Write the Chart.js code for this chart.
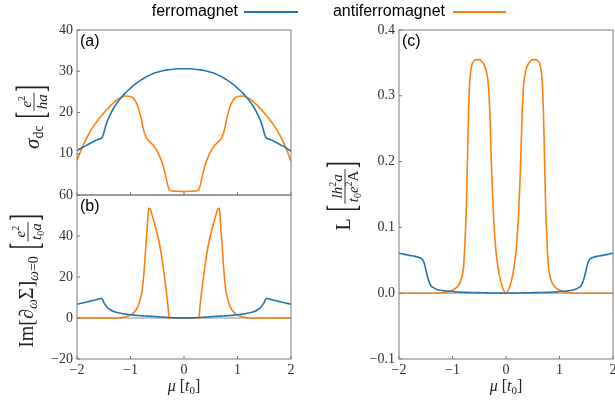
<!DOCTYPE html>
<html>
<head>
<meta charset="utf-8">
<script src="https://cdn.jsdelivr.net/npm/chart.js@4.4.0/dist/chart.umd.min.js"></script>
<style>
  html, body { margin: 0; padding: 0; background: #fff; overflow: hidden; }
  #wrap { position: relative; width: 615px; height: 403px; overflow: hidden; }
  #wrap canvas { position: absolute; left: 0; top: 0; }
</style>
</head>
<body>
<div id="wrap">
  <canvas id="panelA" width="615" height="403"></canvas>
  <canvas id="panelB" width="615" height="403"></canvas>
  <canvas id="panelC" width="630" height="403"></canvas>
</div>
<script>
// chemical potential grids, one per panel
const muA = [-2, -1.9, -1.8, -1.7, -1.6, -1.53, -1.45, -1.4, -1.3, -1.2, -1.1, -1, -0.95, -0.9, -0.85, -0.8, -0.75, -0.7, -0.65, -0.6, -0.55, -0.5, -0.45, -0.4, -0.35, -0.3, -0.27, -0.2, -0.1, 0,
  0.1, 0.2, 0.27, 0.3, 0.35, 0.4, 0.45, 0.5, 0.55, 0.6, 0.65, 0.7, 0.75, 0.8, 0.85, 0.9, 0.95, 1, 1.1, 1.2, 1.3, 1.4, 1.45, 1.53, 1.6, 1.7, 1.8, 1.9, 2];
const muB = [-2, -1.9, -1.8, -1.7, -1.6, -1.54, -1.5, -1.45, -1.4, -1.3, -1.2, -1.1, -1, -0.95, -0.9, -0.85, -0.8, -0.77, -0.74, -0.71, -0.68, -0.66, -0.63, -0.6, -0.55, -0.5, -0.45, -0.4, -0.35, -0.3, -0.28, -0.2, -0.1, 0,
  0.1, 0.2, 0.28, 0.3, 0.35, 0.4, 0.45, 0.5, 0.55, 0.6, 0.63, 0.66, 0.68, 0.71, 0.74, 0.77, 0.8, 0.85, 0.9, 0.95, 1, 1.1, 1.2, 1.3, 1.4, 1.45, 1.5, 1.54, 1.6, 1.7, 1.8, 1.9, 2];
const muC = [-2, -1.9, -1.8, -1.7, -1.6, -1.55, -1.52, -1.5, -1.47, -1.44, -1.4, -1.35, -1.3, -1.2, -1.1, -1, -0.95, -0.9, -0.85, -0.82, -0.79, -0.76, -0.74, -0.72, -0.7, -0.68, -0.66, -0.63, -0.6, -0.55, -0.5, -0.45, -0.4, -0.37, -0.34, -0.32, -0.3, -0.28, -0.26, -0.24, -0.2, -0.16, -0.12, -0.08, -0.04, 0,
  0.04, 0.08, 0.12, 0.16, 0.2, 0.24, 0.26, 0.28, 0.3, 0.32, 0.34, 0.37, 0.4, 0.45, 0.5, 0.55, 0.6, 0.63, 0.66, 0.68, 0.7, 0.72, 0.74, 0.76, 0.79, 0.82, 0.85, 0.9, 0.95, 1, 1.1, 1.2, 1.3, 1.35, 1.4, 1.44, 1.47, 1.5, 1.52, 1.55, 1.6, 1.7, 1.8, 1.9, 2];

// (a) sigma_dc
const sigmaFerro = [10.8, 11.5, 12.2, 12.9, 13.5, 14.0, 17.3, 18.9, 21.4, 23.2, 24.7, 25.9, 26.5, 27.0, 27.5, 27.9, 28.3, 28.7, 29.0, 29.3, 29.55, 29.75, 29.95, 30.1, 30.25, 30.35, 30.4, 30.5, 30.6, 30.6,
  30.6, 30.5, 30.4, 30.35, 30.25, 30.1, 29.95, 29.75, 29.55, 29.3, 29.0, 28.7, 28.3, 27.9, 27.5, 27.0, 26.5, 25.9, 24.7, 23.2, 21.4, 18.9, 17.3, 14.0, 13.5, 12.9, 12.2, 11.5, 10.6];
const sigmaAnti = [8.4, 11.6, 14.3, 16.5, 18.3, 19.4, 20.6, 21.3, 22.6, 23.5, 24.0, 23.9, 23.5, 22.6, 21.0, 18.5, 15.5, 13.8, 13.0, 12.4, 11.6, 10.6, 9.2, 7.5, 5.0, 2.2, 1.2, 0.95, 0.9, 0.85,
  0.9, 0.95, 1.2, 2.2, 5.0, 7.5, 9.2, 10.6, 11.6, 12.4, 13.0, 13.8, 15.5, 18.5, 21.0, 22.6, 23.5, 23.9, 24.0, 23.5, 22.6, 21.3, 20.6, 19.4, 18.3, 16.5, 14.3, 11.6, 8.2];

// (b) Im[d_omega Sigma] at omega = 0
const imFerro = [6.7, 7.3, 7.9, 8.5, 9.2, 9.6, 7.6, 5.6, 4.4, 3.0, 2.4, 1.9, 1.6, 1.45, 1.3, 1.2, 1.1, 1.05, 1.0, 0.95, 0.9, 0.87, 0.83, 0.78, 0.7, 0.6, 0.52, 0.44, 0.36, 0.28, 0.25, 0.15, 0.06, 0,
  0.06, 0.15, 0.25, 0.28, 0.36, 0.44, 0.52, 0.6, 0.7, 0.78, 0.83, 0.87, 0.9, 0.95, 1.0, 1.05, 1.1, 1.2, 1.3, 1.45, 1.6, 1.9, 2.4, 3.0, 4.4, 5.6, 7.6, 9.6, 9.2, 8.5, 7.9, 7.3, 6.7];
const imAnti = [0, 0, 0, 0, 0, 0, 0, 0, 0, 0, 0.15, 0.5, 1.4, 2.4, 3.8, 6.5, 11, 16, 25, 36, 47, 53.5, 53, 50.5, 46, 41, 35, 27, 17, 6, 0, 0, 0, 0,
  0, 0, 0, 6, 17, 27, 35, 41, 46, 50.5, 53, 53.5, 47, 36, 25, 16, 11, 6.5, 3.8, 2.4, 1.4, 0.5, 0.15, 0, 0, 0, 0, 0, 0, 0, 0, 0, 0];

// (c) L
const lFerro = [0.061, 0.059, 0.0575, 0.056, 0.0535, 0.05, 0.043, 0.036, 0.026, 0.018, 0.011, 0.008, 0.006, 0.004, 0.003, 0.0025, 0.002, 0.0018, 0.0016, 0.0015, 0.0014, 0.0013, 0.0013, 0.0012, 0.0012, 0.0011, 0.0011, 0.001, 0.001, 0.0009, 0.0008, 0.0007, 0.0006, 0.0005, 0.0005, 0.0004, 0.0004, 0.0003, 0.0003, 0.0003, 0.0002, 0.0002, 0.0001, 0.0001, 0, 0,
  0, 0.0001, 0.0001, 0.0002, 0.0002, 0.0003, 0.0003, 0.0003, 0.0004, 0.0004, 0.0005, 0.0005, 0.0006, 0.0007, 0.0008, 0.0009, 0.001, 0.001, 0.0011, 0.0011, 0.0012, 0.0012, 0.0013, 0.0013, 0.0014, 0.0015, 0.0016, 0.0018, 0.002, 0.0025, 0.003, 0.004, 0.006, 0.008, 0.011, 0.018, 0.026, 0.036, 0.043, 0.05, 0.0535, 0.056, 0.0575, 0.059, 0.061];
const lAnti = [0, 0, 0, 0, 0, 0, 0, 0, 0, 0, 0, 0, 0, 0.0008, 0.002, 0.0045, 0.007, 0.011, 0.018, 0.027, 0.043, 0.09, 0.135, 0.205, 0.275, 0.318, 0.336, 0.349, 0.353, 0.355, 0.355, 0.352, 0.346, 0.338, 0.325, 0.305, 0.27, 0.215, 0.168, 0.128, 0.075, 0.045, 0.026, 0.012, 0.004, 0,
  0.004, 0.012, 0.026, 0.045, 0.075, 0.128, 0.168, 0.215, 0.27, 0.305, 0.325, 0.338, 0.346, 0.352, 0.355, 0.355, 0.353, 0.349, 0.336, 0.318, 0.275, 0.205, 0.135, 0.09, 0.043, 0.027, 0.018, 0.011, 0.007, 0.0045, 0.002, 0.0008, 0, 0, 0, 0, 0, 0, 0, 0, 0, 0, 0, 0, 0];

const seriesNames = ['ferromagnet', 'antiferromagnet'];
const BLUE = '#1f77b4';
const ORANGE = '#ff7f0e';
const FRAME = '#7a7a7a';
const TEXT = '#222';
const SERIF = '"Liberation Serif", "DejaVu Serif", serif';
const SANS = '"Liberation Sans", Arial, sans-serif';

const minus = s => String(s).replace('-', '\u2212');

// --- small rich text helper for the LaTeX-like axis labels ---
function fnt(style, size) {
  return (style === 'i' ? 'italic ' : '') + size + 'px ' + SERIF;
}
function runsWidth(ctx, runs) {
  let w = 0;
  for (const r of runs) { ctx.font = fnt(r[1], r[2]); w += ctx.measureText(r[0]).width; }
  return w;
}
function drawRuns(ctx, runs, x, y) {
  for (const r of runs) {
    ctx.font = fnt(r[1], r[2]);
    ctx.fillText(r[0], x, y + (r[3] || 0));
    x += ctx.measureText(r[0]).width;
  }
  return x;
}
function bracket(ctx, ch, x, axis, k) {
  ctx.save();
  ctx.translate(x, axis);
  ctx.scale(1, k);
  ctx.font = fnt('r', 20);
  ctx.fillText(ch, 0, 5);
  ctx.restore();
}
function itemWidth(ctx, it) {
  if (it.gap) return it.gap;
  if (it.runs) return runsWidth(ctx, it.runs);
  ctx.font = fnt('r', 20);
  const bw = ctx.measureText('[').width;
  const fw = Math.max(runsWidth(ctx, it.num), runsWidth(ctx, it.den)) + 3;
  return bw * 2 + fw + 2;
}
function drawItem(ctx, it, x) {
  if (it.gap) return x + it.gap;
  if (it.runs) return drawRuns(ctx, it.runs, x, 0);
  const axis = -5, k = 2.0;
  ctx.font = fnt('r', 20);
  const bw = ctx.measureText('[').width;
  const nw = runsWidth(ctx, it.num), dw = runsWidth(ctx, it.den);
  const fw = Math.max(nw, dw) + 3;
  bracket(ctx, '[', x, axis, k);
  const fx = x + bw + 1;
  ctx.fillRect(fx, axis - 0.45, fw, 0.9);
  drawRuns(ctx, it.num, fx + (fw - nw) / 2, axis - 3);
  drawRuns(ctx, it.den, fx + (fw - dw) / 2, axis + 13);
  bracket(ctx, ']', fx + fw + 1, axis, k);
  return fx + fw + 1 + bw;
}
function drawLabel(ctx, items, x, y, rotated) {
  ctx.save();
  ctx.fillStyle = TEXT;
  ctx.textAlign = 'left';
  ctx.textBaseline = 'alphabetic';
  ctx.translate(x, y);
  if (rotated) ctx.rotate(-Math.PI / 2);
  const w = items.reduce((s, it) => s + itemWidth(ctx, it), 0);
  let cx = -w / 2;
  for (const it of items) cx = drawItem(ctx, it, cx);
  ctx.restore();
}

const eSq = [['e', 'i', 15], ['2', 'r', 10, -6]];
const labelA = [{ runs: [['σ', 'i', 21], ['dc', 'r', 14, 4]] }, { gap: 7 },
  { num: eSq, den: [['h', 'i', 15], ['a', 'i', 15]] }];
const labelB = [{ runs: [['Im', 'r', 20], ['[', 'r', 20], ['∂', 'r', 20], ['ω', 'i', 14, 4], ['Σ', 'r', 20], [']', 'r', 20], ['ω', 'i', 14, 5], ['=', 'r', 14, 5], ['0', 'r', 14, 5]] },
  { gap: 7 }, { num: eSq, den: [['t', 'i', 15], ['0', 'r', 10, 3], ['a', 'i', 15]] }];
const labelC = [{ runs: [['L', 'r', 20]] }, { gap: 7 },
  { num: [['l', 'i', 15], ['h', 'i', 15], ['2', 'r', 10, -6], ['a', 'i', 15]],
    den: [['t', 'i', 15], ['0', 'r', 10, 3], ['e', 'i', 15], ['2', 'r', 10, -6], ['A', 'r', 15]] }];
const labelX = [{ runs: [['μ', 'i', 16], [' ', 'r', 16], ['[', 'r', 16], ['t', 'i', 16], ['0', 'r', 11, 3], [']', 'r', 16]] }];

// frame, inward ticks, zero line, labels
function makeFrame(cfg) {
  return {
    id: 'frame' + cfg.letter,
    beforeDatasetsDraw(chart) {
      if (!cfg.zeroLine) return;
      const { ctx, chartArea: a, scales: { y } } = chart;
      const py = y.getPixelForValue(0);
      ctx.save();
      ctx.strokeStyle = '#b5b5b5';
      ctx.lineWidth = 1.5;
      ctx.beginPath(); ctx.moveTo(a.left, py); ctx.lineTo(a.right, py); ctx.stroke();
      ctx.restore();
    },
    afterDatasetsDraw(chart) {
      const { ctx, chartArea: a, scales: { x, y } } = chart;
      ctx.save();
      ctx.strokeStyle = FRAME;
      ctx.lineWidth = 1;
      ctx.strokeRect(a.left, a.top, a.right - a.left, a.bottom - a.top);
      ctx.beginPath();
      y.ticks.forEach(t => { const p = y.getPixelForValue(t.value); ctx.moveTo(a.left, p); ctx.lineTo(a.left + 3, p); });
      x.ticks.forEach(t => { const p = x.getPixelForValue(t.value); ctx.moveTo(p, a.bottom); ctx.lineTo(p, a.bottom - 3); });
      ctx.stroke();
      ctx.restore();
    },
    afterDraw(chart) {
      const { ctx, chartArea: a } = chart;
      ctx.save();
      ctx.fillStyle = '#000';
      ctx.font = '16px ' + SANS;
      ctx.textAlign = 'left';
      ctx.textBaseline = 'alphabetic';
      ctx.fillText('(' + cfg.letter + ')', a.left + 3, a.top + 16);
      ctx.restore();
      drawLabel(ctx, cfg.yLabel, cfg.yLabelX, cfg.yLabelY, true);
      if (cfg.xTicks) drawLabel(ctx, labelX, (a.left + a.right) / 2, 391, false);
      if (cfg.legend) {
        ctx.save();
        ctx.font = '16px ' + SANS;
        ctx.textAlign = 'right';
        ctx.textBaseline = 'middle';
        ctx.fillStyle = '#000';
        ctx.lineWidth = 2;
        [[238, 244, 298, BLUE], [445, 453, 506, ORANGE]].forEach((l, i) => {
          ctx.fillText(seriesNames[i], l[0], 12);
          ctx.strokeStyle = l[3];
          ctx.beginPath(); ctx.moveTo(l[1], 12); ctx.lineTo(l[2], 12); ctx.stroke();
        });
        ctx.restore();
      }
    }
  };
}

function makeChart(id, cfg) {
  const tickFont = { family: SERIF, size: 14 };
  return new Chart(document.getElementById(id), {
    type: 'line',
    data: {
      datasets: cfg.series.map((vals, i) => ({
        label: seriesNames[i],
        data: cfg.mu.map((m, j) => ({ x: m, y: vals[j] })),
        borderColor: i === 0 ? BLUE : ORANGE,
        borderWidth: 1.6,
        pointRadius: 0,
        cubicInterpolationMode: 'monotone',
        fill: false
      }))
    },
    options: {
      responsive: false,
      animation: false,
      events: [],
      layout: { padding: cfg.padding },
      plugins: { legend: { display: false }, tooltip: { enabled: false } },
      scales: {
        x: {
          type: 'linear', min: -2, max: 2,
          ticks: { stepSize: 1, display: cfg.xTicks, maxRotation: 0, autoSkip: false, padding: 3,
            font: tickFont, color: '#333', callback: v => minus(v) },
          grid: { display: false, drawTicks: false },
          border: { display: false },
          afterFit: s => { s.height = cfg.xHeight; }
        },
        y: {
          min: cfg.yMin, max: cfg.yMax,
          ticks: { stepSize: cfg.yStep, padding: 4, font: tickFont, color: '#333', callback: cfg.yFmt },
          grid: { display: false, drawTicks: false },
          border: { display: false },
          afterFit: s => { s.width = 40; }
        }
      }
    },
    plugins: [makeFrame(cfg)]
  });
}

makeChart('panelA', {
  letter: 'a', mu: muA, series: [sigmaFerro, sigmaAnti],
  padding: { left: 37, right: 324, top: 30, bottom: 208 }, xTicks: false, xHeight: 0,
  yMin: 0, yMax: 40, yStep: 10, yFmt: v => (v === 0 ? '' : minus(v)),
  yLabel: labelA, yLabelX: 39, yLabelY: 117, legend: true
});
makeChart('panelB', {
  letter: 'b', mu: muB, series: [imFerro, imAnti], zeroLine: true,
  padding: { left: 37, right: 324, top: 195, bottom: 0 }, xTicks: true, xHeight: 44,
  yMin: -20, yMax: 60, yStep: 20, yFmt: v => minus(v),
  yLabel: labelB, yLabelX: 33, yLabelY: 281
});
makeChart('panelC', {
  letter: 'c', mu: muC, series: [lFerro, lAnti], zeroLine: true,
  padding: { left: 359, right: 17, top: 30, bottom: 0 }, xTicks: true, xHeight: 44,
  yMin: -0.1, yMax: 0.4, yStep: 0.1, yFmt: v => minus(Number(v).toFixed(1)),
  yLabel: labelC, yLabelX: 350, yLabelY: 196
});
</script>
</body>
</html>
